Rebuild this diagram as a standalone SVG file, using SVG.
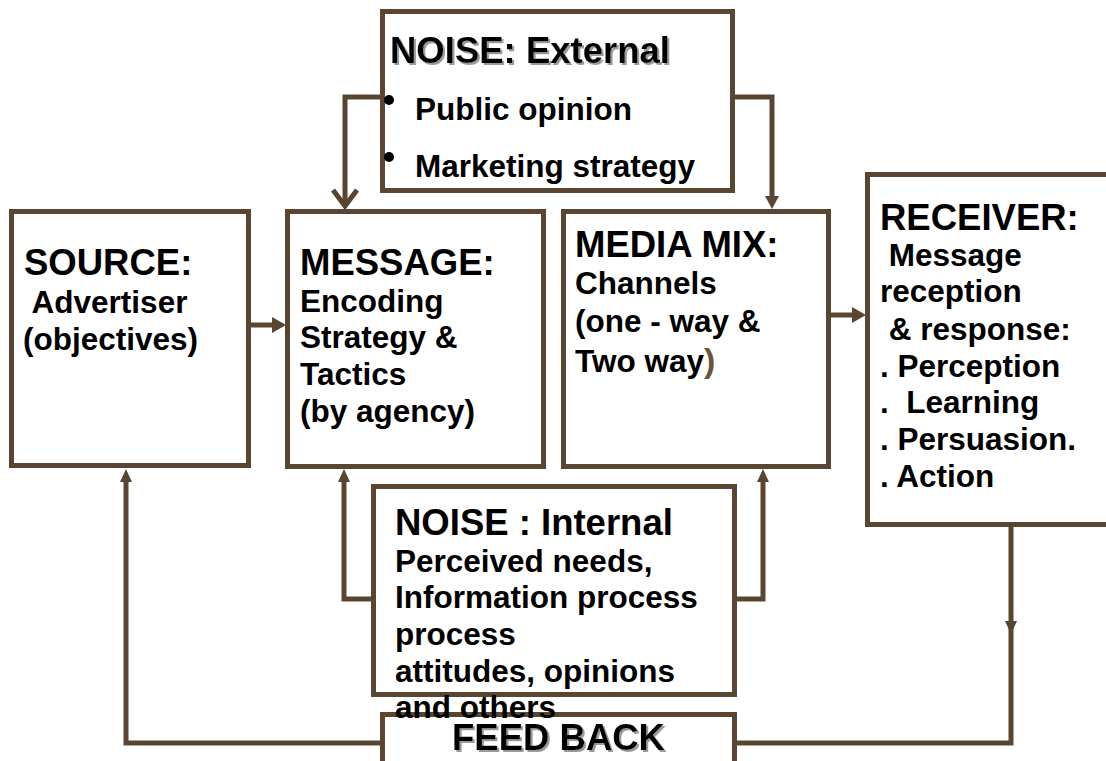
<svg xmlns="http://www.w3.org/2000/svg" width="1106" height="761" viewBox="0 0 1106 761">
<style>
.box{fill:#ffffff;stroke:#594530;stroke-width:5}
.ln{fill:none;stroke:#594530;stroke-width:5}
.ah{fill:#594530;stroke:none}
text{font-family:"Liberation Sans",Arial,sans-serif;font-weight:bold;fill:#000}
.h{font-size:36.5px}
.b{font-size:31.5px}
.sh{filter:url(#shadow)}
</style>
<defs>
<filter id="shadow" x="-5%" y="-20%" width="115%" height="150%">
<feDropShadow dx="2" dy="2" stdDeviation="0.6" flood-color="#9a9a9a" flood-opacity="1"/>
</filter>
</defs>
<rect width="1106" height="761" fill="#ffffff"/>
<g id="connectors">
<polyline class="ln" points="380,97 345,97 345,206"/>
<polyline class="ln" points="333,190 345,206 357,190"/>
<polyline class="ln" points="735,97 772,97 772,198"/>
<polygon class="ah" points="765,196 779,196 772,209"/>
<line class="ln" x1="251" y1="325" x2="273" y2="325"/>
<polygon class="ah" points="272,317 272,333 286,325"/>
<line class="ln" x1="831" y1="315" x2="853" y2="315"/>
<polygon class="ah" points="852,307 852,323 866,315"/>
<polyline class="ln" points="371,599 344,599 344,480"/>
<polygon class="ah" points="338,482 350,482 344,469"/>
<polyline class="ln" points="737,599 763,599 763,480"/>
<polygon class="ah" points="757,482 769,482 763,469"/>
<polyline class="ln" points="380,743 126,743 126,480"/>
<polygon class="ah" points="120,482 132,482 126,469"/>
<polyline class="ln" points="737,743 1011,743 1011,527"/>
<polygon class="ah" points="1005,621 1017,621 1011,634"/>
</g>
<g id="noise-external">
<rect class="box" x="382.5" y="11.5" width="350" height="179"/>
<text class="h sh" x="390" y="63">NOISE: External</text>
<circle cx="389" cy="100" r="5" fill="#000"/>
<text class="b" x="415" y="120">Public opinion</text>
<circle cx="389" cy="157" r="5" fill="#000"/>
<text class="b" x="415" y="177">Marketing strategy</text>
</g>
<g id="source">
<rect class="box" x="11.5" y="211.5" width="237" height="254"/>
<text class="h" x="24" y="275">SOURCE:</text>
<text class="b" x="24" y="313" xml:space="preserve"> Advertiser</text>
<text class="b" x="23" y="350">(objectives)</text>
</g>
<g id="message">
<rect class="box" x="287.5" y="211.5" width="256" height="255"/>
<text class="h" x="300" y="275">MESSAGE:</text>
<text class="b" x="300" y="312">Encoding</text>
<text class="b" x="300" y="348">Strategy &amp;</text>
<text class="b" x="300" y="385">Tactics</text>
<text class="b" x="300" y="422">(by agency)</text>
</g>
<g id="media-mix">
<rect class="box" x="563.5" y="211.5" width="265" height="255"/>
<text class="h" x="575" y="257">MEDIA MIX:</text>
<text class="b" x="575" y="294">Channels</text>
<text class="b" x="575" y="332">(one - way &amp;</text>
<text class="b" x="575" y="372">Two way<tspan fill="#6b5538" font-size="34px">)</tspan></text>
</g>
<g id="receiver">
<rect class="box" x="867.5" y="174.5" width="260" height="350"/>
<text class="h" x="880" y="230">RECEIVER:</text>
<text class="b" x="880" y="266" xml:space="preserve"> Message</text>
<text class="b" x="880" y="302">reception</text>
<text class="b" x="880" y="340" xml:space="preserve"> &amp; response:</text>
<text class="b" x="880" y="377">. Perception</text>
<text class="b" x="880" y="413" xml:space="preserve">.  Learning</text>
<text class="b" x="880" y="450">. Persuasion.</text>
<text class="b" x="880" y="487">. Action</text>
</g>
<g id="feed-back">
<rect class="box" x="382.5" y="714.5" width="352" height="60"/>
<text class="h sh" x="558.5" y="750" text-anchor="middle">FEED BACK</text>
</g>
<g id="noise-internal">
<rect class="box" x="373.5" y="486.5" width="361" height="208"/>
<text class="h" x="395" y="535">NOISE : Internal</text>
<text class="b" x="395" y="572">Perceived needs,</text>
<text class="b" x="395" y="608">Information process</text>
<text class="b" x="395" y="645">process</text>
<text class="b" x="395" y="682">attitudes, opinions</text>
<text class="b" x="395" y="718">and others</text>
</g>
</svg>
